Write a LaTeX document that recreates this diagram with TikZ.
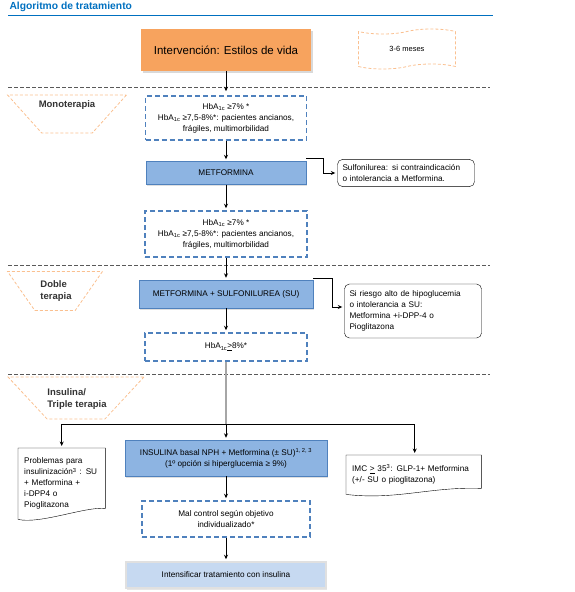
\documentclass[tikz,border=0pt]{standalone}
\usepackage{fontspec}
\setmainfont{Liberation Sans}
\usetikzlibrary{positioning, arrows.meta, shapes.geometric, shapes.symbols, shadows}
\definecolor{titleBlue}{HTML}{0070C0}
\definecolor{lifeOrange}{HTML}{F7A35E}
\definecolor{dashOrange}{HTML}{FAC090}
\definecolor{boxBlue}{HTML}{8DB4E2}
\definecolor{edgeBlue}{HTML}{4F81BD}
\definecolor{paleBlue}{HTML}{C6D9F1}
\definecolor{sepGray}{HTML}{595959}
\definecolor{feedGray}{HTML}{A6A6A6}

\begin{document}
\begin{tikzpicture}[
    x=1pt, y=-1pt,
    >={Stealth[length=4.5pt,width=4pt]},
    font=\fontsize{8.2}{11}\selectfont,
    phase/.style={trapezium, shape border rotate=180, trapezium stretches=true, draw=dashOrange, dash pattern=on 3pt off 2pt, thick, trapezium left angle=56, trapezium right angle=56},
    phaselabel/.style={font=\fontsize{9.5}{12}\selectfont\bfseries, align=left, text=black!80},
    target/.style={draw=edgeBlue, line width=1.5pt, dash pattern=on 5pt off 3pt, align=center},
    drug/.style={draw=edgeBlue, fill=boxBlue, align=center, drop shadow={opacity=0.25, shadow xshift=1pt, shadow yshift=-1.5pt}},
    option/.style={draw, rounded corners=5pt, align=left, inner sep=5pt, text width=127},
    docbox/.style={align=left, inner sep=6pt},
    flow/.style={->, thick, shorten >=2pt},
    feed/.style={draw=feedGray, line width=1.5pt},
    sep/.style={draw=sepGray, dash pattern=on 3.5pt off 2.5pt}
]
    \useasboundingbox (0,0) rectangle (574,592);

    % heading
    \node[anchor=west, text=titleBlue, font=\fontsize{10.3}{12}\selectfont\bfseries] (title) at (6,7) {Algoritmo de tratamiento};
    \draw[titleBlue, thick] (8,15) -- (493,15);

    % phase separators
    \draw[sep] (8,87) -- (490,87);
    \draw[sep] (8,265) -- (490,265);
    \draw[sep] (8,374) -- (490,374);

    % phase labels
    \node[phase, minimum width=119, minimum height=38] (mono) at (67,114) {};
    \node[phaselabel] (monoL) at (67,105) {Monoterapia};
    \node[phase, minimum width=95, minimum height=39] (doble) at (55,291) {};
    \node[phaselabel] (dobleL) at (56,291) {Doble\\terapia};
    \node[phase, minimum width=136, minimum height=42] (insul) at (76,398) {};
    \node[phaselabel] (insulL) at (77,399) {Insulina/\\Triple terapia};

    % main column
    \node[fill=lifeOrange, minimum width=170, minimum height=42, font=\fontsize{11.5}{13}\selectfont, drop shadow={opacity=0.3, shadow xshift=1.5pt, shadow yshift=-1.5pt}] (life) at (226,50) {Intervención: Estilos de vida};
    \node[tape, draw=dashOrange, dash pattern=on 3pt off 2pt, thick, minimum width=97, minimum height=40, font=\fontsize{7.5}{9}\selectfont] (meses) at (407,49) {3-6 meses};

    \node[target, minimum width=161, minimum height=44] (hb1) at (226,118) {HbA\textsubscript{1c} ≥7\% *\\HbA\textsubscript{1c} ≥7,5-8\%*: pacientes ancianos,\\frágiles, multimorbilidad};
    \node[drug, minimum width=160, minimum height=23] (metf) at (226,173) {METFORMINA};
    \node[option] (sulf) at (406,173) {Sulfonilurea: si contraindicación\\o intolerancia a Metformina.};
    \node[target, minimum width=162, minimum height=46] (hb2) at (226,234) {HbA\textsubscript{1c} ≥7\% *\\HbA\textsubscript{1c} ≥7,5-8\%*: pacientes ancianos,\\frágiles, multimorbilidad};

    \node[drug, minimum width=174, minimum height=28] (metsu) at (226,294) {METFORMINA + SULFONILUREA (SU)};
    \node[option, minimum height=54] (riesgo) at (413,311) {Si riesgo alto de hipoglucemia\\o intolerancia a SU:\\Metformina +i-DPP-4 o\\Pioglitazona};
    \node[target, minimum width=162, minimum height=28] (hb3) at (226,347) {HbA\textsubscript{1c}\underline{>}8\%*};

    \coordinate (split) at (226,424);
    \node[docbox, minimum width=87, minimum height=71, text width=75, anchor=north west] (prob) at (18,448) {Problemas para\\insulinización\textsuperscript{3} : SU\\+ Metformina +\\i-DPP4 o\\Pioglitazona\\[9pt]};
    \node[drug, minimum width=202, minimum height=36] (ins) at (226,458) {INSULINA basal NPH + Metformina (± SU)\textsuperscript{1, 2, 3}\\(1º opción si hiperglucemia ≥ 9\%)};
    \node[docbox, minimum width=135, minimum height=39, text width=123, anchor=north west] (imc) at (346,455) {IMC \underline{>} 35\textsuperscript{3}: GLP-1+ Metformina\\(+/- SU o pioglitazona)};
    \node[target, minimum width=168, minimum height=36] (mal) at (226,519) {Mal control según objetivo\\individualizado*};
    \node[fill=paleBlue, draw=black!12, line width=1.5pt, minimum width=200, minimum height=26, drop shadow={opacity=0.2, shadow xshift=1pt, shadow yshift=-1.5pt}] (intens) at (226,575) {Intensificar tratamiento con insulina};

    % wavy-bottom documents
    \draw (prob.north west) -- (prob.north east) -- ([yshift=11pt]prob.south east) .. controls +(-20,-2) and +(22,5) .. (prob.south west) -- cycle;
    \draw (imc.north west) -- (imc.north east) -- ([yshift=6pt]imc.south east) .. controls +(-50,-2) and +(50,6) .. (imc.south west) -- cycle;

    % connectors
    \draw[flow, shorten >=4pt] (life) -- (hb1);
    \draw[flow] (hb1) -- (metf);
    \draw[flow] (metf) -- (hb2);
    \draw[flow] (hb2) -- (metsu);
    \draw[flow] (metsu) -- (hb3);
    \draw[feed] (hb3) -- (split);
    \draw[flow] (split) -- (ins);
    \draw[flow] (split) -| (prob);
    \draw[flow] (split) -| ([xshift=1pt]imc.north);
    \draw[flow] (ins) -- (mal);
    \draw[flow] (mal) -- (intens);
    \draw[flow] ([yshift=3pt]metf.north east) -- ++(17,0) |- (sulf);
    \draw[flow] ([yshift=1pt]metsu.north east) -- ++(19,0) |- ([yshift=4pt]riesgo.west);
\end{tikzpicture}
\end{document}
